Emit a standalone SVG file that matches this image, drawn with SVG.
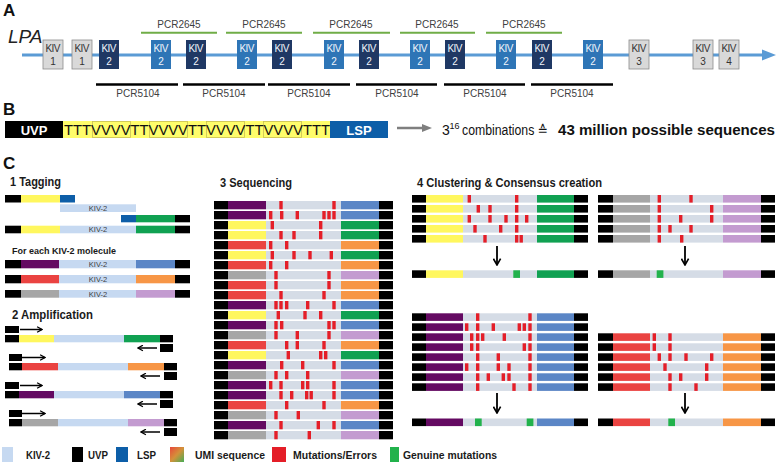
<svg xmlns="http://www.w3.org/2000/svg" width="778" height="465" viewBox="0 0 778 465">
<style>
text{font-family:"Liberation Sans",Arial,"DejaVu Sans",sans-serif}
.bk{fill:#000}
.ye{fill:#fff75e}
.gr{fill:#10a152}
.pu{fill:#640a62}
.rd{fill:#ea4341}
.or{fill:#f79646}
.bl{fill:#5b86c6}
.gy{fill:#a6a6a6}
.lv{fill:#c39bd0}
.kv{fill:#c6d9f1}
.md{fill:#d5dce6}
.mu{fill:#e41e28}
.gm{fill:#22b24c}
.ls{fill:#0d5ea8}
.g1{fill:#d9d9d9;stroke:#8c8c8c;stroke-width:0.8}
.nv{fill:#1f3864}
.lb{fill:#2e75b6}
.kt{font-size:10px;text-anchor:middle}
.tw{fill:#f2f6fb}
.tg{fill:#333}
.pcr{font-size:10px;fill:#404040;text-anchor:middle}
.h{font-size:12px;font-weight:bold;fill:#1a1a1a}
.lg{font-size:11px;font-weight:bold;fill:#1a1a1a}
.kl{font-size:7.5px;fill:#404040;text-anchor:middle}
.big{font-size:17px;font-weight:bold;fill:#111}
.bt{font-size:14px;fill:#111}
.ar{stroke:#000;stroke-width:1.5;fill:none;marker-end:url(#chev)}
.ard{stroke:#000;stroke-width:1.8;fill:none;marker-end:url(#chevd)}
</style>
<defs>
<marker id="chev" viewBox="0 0 10 10" refX="9" refY="5" markerWidth="7" markerHeight="7" orient="auto" markerUnits="userSpaceOnUse"><path d="M2,1 L9,5 L2,9" fill="none" stroke="#000" stroke-width="1.8"/></marker>
<marker id="chevd" viewBox="0 0 10 10" refX="9" refY="5" markerWidth="9" markerHeight="9" orient="auto" markerUnits="userSpaceOnUse"><path d="M2,1 L9,5 L2,9" fill="none" stroke="#000" stroke-width="1.8"/></marker>
<linearGradient id="umi" x1="0" y1="0" x2="1" y2="1"><stop offset="0" stop-color="#e8483a"/><stop offset="0.5" stop-color="#d4913a"/><stop offset="1" stop-color="#45ad55"/></linearGradient>
<rect id="ms" class="mu" width="3.4" height="8.3"/>
<rect id="mc" class="mu" width="3.4" height="7.6"/>
<g id="sPB"><rect class="bk" width="14" height="8.3"/><rect class="pu" x="14" width="38" height="8.3"/><rect class="md" x="52" width="75" height="8.3"/><rect class="bl" x="127" width="38" height="8.3"/><rect class="bk" x="165" width="14" height="8.3"/></g>
<g id="sYG"><rect class="bk" width="14" height="8.3"/><rect class="ye" x="14" width="38" height="8.3"/><rect class="md" x="52" width="75" height="8.3"/><rect class="gr" x="127" width="38" height="8.3"/><rect class="bk" x="165" width="14" height="8.3"/></g>
<g id="sRO"><rect class="bk" width="14" height="8.3"/><rect class="rd" x="14" width="38" height="8.3"/><rect class="md" x="52" width="75" height="8.3"/><rect class="or" x="127" width="38" height="8.3"/><rect class="bk" x="165" width="14" height="8.3"/></g>
<g id="sGL"><rect class="bk" width="14" height="8.3"/><rect class="gy" x="14" width="38" height="8.3"/><rect class="md" x="52" width="75" height="8.3"/><rect class="lv" x="127" width="38" height="8.3"/><rect class="bk" x="165" width="14" height="8.3"/></g>
<g id="cPB"><rect class="bk" width="14" height="7.6"/><rect class="pu" x="14" width="37" height="7.6"/><rect class="md" x="51" width="74" height="7.6"/><rect class="bl" x="125" width="37" height="7.6"/><rect class="bk" x="162" width="14" height="7.6"/></g>
<g id="cYG"><rect class="bk" width="14" height="7.6"/><rect class="ye" x="14" width="37" height="7.6"/><rect class="md" x="51" width="74" height="7.6"/><rect class="gr" x="125" width="37" height="7.6"/><rect class="bk" x="162" width="14" height="7.6"/></g>
<g id="cRO"><rect class="bk" width="15" height="7.6"/><rect class="rd" x="15" width="37" height="7.6"/><rect class="md" x="52" width="73" height="7.6"/><rect class="or" x="125" width="38" height="7.6"/><rect class="bk" x="163" width="14" height="7.6"/></g>
<g id="cGL"><rect class="bk" width="15" height="7.6"/><rect class="gy" x="15" width="37" height="7.6"/><rect class="md" x="52" width="73" height="7.6"/><rect class="lv" x="125" width="38" height="7.6"/><rect class="bk" x="163" width="14" height="7.6"/></g>
</defs>
<rect width="778" height="465" fill="#fff"/>

<!-- Panel A -->
<g id="panelA">
<text class="big" x="3" y="16">A</text>
<text x="8" y="43" font-size="19" font-style="italic" fill="#222">LPA</text>
</g>
<g id="connectors">
<line x1="22" y1="55" x2="764" y2="55" stroke="#5b9bd5" stroke-width="3"/>
<polygon points="762,49.5 776,55 762,60.5" fill="#5b9bd5"/>
<g stroke="#70ad47" stroke-width="2">
<line x1="141" y1="32.7" x2="217" y2="32.7"/><line x1="226" y1="32.7" x2="302" y2="32.7"/><line x1="313" y1="32.7" x2="390" y2="32.7"/><line x1="400" y1="32.7" x2="475" y2="32.7"/><line x1="486" y1="32.7" x2="562" y2="32.7"/>
</g>
<g stroke="#000" stroke-width="2.5">
<line x1="96" y1="84.5" x2="178" y2="84.5"/><line x1="183" y1="84.5" x2="265" y2="84.5"/><line x1="268" y1="84.5" x2="350" y2="84.5"/><line x1="356" y1="84.5" x2="437" y2="84.5"/><line x1="444" y1="84.5" x2="525" y2="84.5"/><line x1="531" y1="84.5" x2="613" y2="84.5"/>
</g>
<line x1="397" y1="128" x2="424" y2="128" stroke="#7f7f7f" stroke-width="2.5"/>
<polygon points="422,124 432,128 422,132" fill="#7f7f7f"/>
<line class="ar" x1="20" y1="329.5" x2="42" y2="329.5"/>
<line class="ar" x1="157" y1="348" x2="138" y2="348"/>
<line class="ar" x1="22" y1="357.5" x2="45" y2="357.5"/>
<line class="ar" x1="160" y1="376" x2="141" y2="376"/>
<line class="ar" x1="20" y1="385.5" x2="42" y2="385.5"/>
<line class="ar" x1="157" y1="404" x2="138" y2="404"/>
<line class="ar" x1="22" y1="413.5" x2="45" y2="413.5"/>
<line class="ar" x1="160" y1="432" x2="141" y2="432"/>
<line class="ard" x1="497" y1="246" x2="497" y2="265"/>
<line class="ard" x1="685" y1="246" x2="685" y2="265"/>
<line class="ard" x1="497" y1="393" x2="497" y2="413"/>
<line class="ard" x1="685" y1="393" x2="685" y2="413"/>
</g>
<g id="pcr-labels">
<text class="pcr" x="179" y="28">PCR2645</text><text class="pcr" x="264" y="28">PCR2645</text><text class="pcr" x="351" y="28">PCR2645</text><text class="pcr" x="437" y="28">PCR2645</text><text class="pcr" x="524" y="28">PCR2645</text>
<text class="pcr" x="138" y="97">PCR5104</text><text class="pcr" x="224" y="97">PCR5104</text><text class="pcr" x="309" y="97">PCR5104</text><text class="pcr" x="397" y="97">PCR5104</text><text class="pcr" x="485" y="97">PCR5104</text><text class="pcr" x="572" y="97">PCR5104</text>
</g>
<g id="kiv1a"><rect class="g1" x="43" y="40" width="20" height="29"/><text class="kt tg" x="53" y="52" textLength="15">KIV</text><text class="kt tg" x="53" y="65">1</text></g>
<g id="kiv1b"><rect class="g1" x="72" y="40" width="20" height="29"/><text class="kt tg" x="82" y="52" textLength="15">KIV</text><text class="kt tg" x="82" y="65">1</text></g>
<g id="kiv2a"><rect class="nv" x="99" y="40" width="20" height="29"/><text class="kt tw" x="109" y="52" textLength="15">KIV</text><text class="kt tw" x="109" y="65">2</text></g>
<g id="kiv2b"><rect class="lb" x="151" y="40" width="20" height="29"/><text class="kt tw" x="161" y="52" textLength="15">KIV</text><text class="kt tw" x="161" y="65">2</text></g>
<g id="kiv2c"><rect class="nv" x="186" y="40" width="20" height="29"/><text class="kt tw" x="196" y="52" textLength="15">KIV</text><text class="kt tw" x="196" y="65">2</text></g>
<g id="kiv2d"><rect class="lb" x="237" y="40" width="20" height="29"/><text class="kt tw" x="247" y="52" textLength="15">KIV</text><text class="kt tw" x="247" y="65">2</text></g>
<g id="kiv2e"><rect class="nv" x="272" y="40" width="20" height="29"/><text class="kt tw" x="282" y="52" textLength="15">KIV</text><text class="kt tw" x="282" y="65">2</text></g>
<g id="kiv2f"><rect class="lb" x="324" y="40" width="20" height="29"/><text class="kt tw" x="334" y="52" textLength="15">KIV</text><text class="kt tw" x="334" y="65">2</text></g>
<g id="kiv2g"><rect class="nv" x="359" y="40" width="20" height="29"/><text class="kt tw" x="369" y="52" textLength="15">KIV</text><text class="kt tw" x="369" y="65">2</text></g>
<g id="kiv2h"><rect class="lb" x="410" y="40" width="20" height="29"/><text class="kt tw" x="420" y="52" textLength="15">KIV</text><text class="kt tw" x="420" y="65">2</text></g>
<g id="kiv2i"><rect class="nv" x="445" y="40" width="20" height="29"/><text class="kt tw" x="455" y="52" textLength="15">KIV</text><text class="kt tw" x="455" y="65">2</text></g>
<g id="kiv2j"><rect class="lb" x="496" y="40" width="20" height="29"/><text class="kt tw" x="506" y="52" textLength="15">KIV</text><text class="kt tw" x="506" y="65">2</text></g>
<g id="kiv2k"><rect class="nv" x="532" y="40" width="20" height="29"/><text class="kt tw" x="542" y="52" textLength="15">KIV</text><text class="kt tw" x="542" y="65">2</text></g>
<g id="kiv2l"><rect class="lb" x="583" y="40" width="20" height="29"/><text class="kt tw" x="593" y="52" textLength="15">KIV</text><text class="kt tw" x="593" y="65">2</text></g>
<g id="kiv3a"><rect class="g1" x="629" y="40" width="20" height="29"/><text class="kt tg" x="639" y="52" textLength="15">KIV</text><text class="kt tg" x="639" y="65">3</text></g>
<g id="kiv3b"><rect class="g1" x="693" y="40" width="20" height="29"/><text class="kt tg" x="703" y="52" textLength="15">KIV</text><text class="kt tg" x="703" y="65">3</text></g>
<g id="kiv4"><rect class="g1" x="719" y="40" width="20" height="29"/><text class="kt tg" x="729" y="52" textLength="15">KIV</text><text class="kt tg" x="729" y="65">4</text></g>

<!-- Panel B -->
<g id="panelB">
<text class="big" x="3" y="115">B</text>
<rect class="bk" x="5" y="121" width="58" height="17"/>
<text x="34" y="135" font-size="13" font-weight="bold" fill="#fff" text-anchor="middle">UVP</text>
<rect x="63" y="121" width="267" height="17" fill="#fffd6b"/>
<g fill="none" stroke="#c9bf55" stroke-width="0.8">
<rect x="92.5" y="121.5" width="38" height="16"/><rect x="149.5" y="121.5" width="38" height="16"/><rect x="206.5" y="121.5" width="38" height="16"/><rect x="263.5" y="121.5" width="38" height="16"/>
</g>
<text x="64" y="135" font-size="15" fill="#111" textLength="266" lengthAdjust="spacingAndGlyphs">TTTVVVVTTVVVVTTVVVVTTVVVVTTT</text>
<rect class="ls" x="330" y="121" width="58" height="17"/>
<text x="359" y="135" font-size="13" font-weight="bold" fill="#fff" text-anchor="middle">LSP</text>
<text class="bt" x="442" y="135">3<tspan x="449.5" y="129" font-size="9">16</tspan></text>
<text class="bt" x="462" y="135" font-size="12.8" textLength="86" lengthAdjust="spacingAndGlyphs">combinations ≙</text>
<text class="bt" x="558" y="135" font-weight="bold" textLength="217" lengthAdjust="spacingAndGlyphs">43 million possible sequences</text>
</g>

<!-- Panel C -->
<g id="panelC">
<text class="big" x="3" y="169">C</text>
</g>
<g id="tagging">
<text class="h" x="10" y="186" textLength="51" lengthAdjust="spacingAndGlyphs">1 Tagging</text>
<rect class="bk" x="5" y="195" width="16" height="7.5"/><rect class="ye" x="21" y="195" width="39" height="7.5"/><rect class="ls" x="60" y="195" width="15" height="7.5"/>
<rect class="kv" x="60" y="204.3" width="76" height="7.7"/><text class="kl" x="98" y="210.8">KIV-2</text>
<rect class="ls" x="121" y="215" width="15" height="7.3"/><rect class="gr" x="136" y="215" width="39" height="7.3"/><rect class="bk" x="175" y="215" width="15" height="7.3"/>
<rect class="bk" x="5" y="225.7" width="16" height="7.6"/><rect class="ye" x="21" y="225.7" width="39" height="7.6"/><rect class="kv" x="60" y="225.7" width="76" height="7.6"/><rect class="gr" x="136" y="225.7" width="39" height="7.6"/><rect class="bk" x="175" y="225.7" width="15" height="7.6"/><text class="kl" x="98" y="232.2">KIV-2</text>
<text x="12" y="254" font-size="8.5" font-weight="bold" fill="#1a1a1a" textLength="104" lengthAdjust="spacingAndGlyphs">For each KIV-2 molecule</text>
<rect class="bk" x="5" y="260" width="16" height="8.3"/><rect class="pu" x="21" y="260" width="38" height="8.3"/><rect class="kv" x="59" y="260" width="77" height="8.3"/><rect class="bl" x="136" y="260" width="39" height="8.3"/><rect class="bk" x="175" y="260" width="15" height="8.3"/><text class="kl" x="98" y="266.8">KIV-2</text>
<rect class="bk" x="5" y="275" width="16" height="8.3"/><rect class="rd" x="21" y="275" width="38" height="8.3"/><rect class="kv" x="59" y="275" width="77" height="8.3"/><rect class="or" x="136" y="275" width="39" height="8.3"/><rect class="bk" x="175" y="275" width="15" height="8.3"/><text class="kl" x="98" y="281.8">KIV-2</text>
<rect class="bk" x="5" y="290" width="16" height="7.7"/><rect class="gy" x="21" y="290" width="38" height="7.7"/><rect class="kv" x="59" y="290" width="77" height="7.7"/><rect class="lv" x="136" y="290" width="39" height="7.7"/><rect class="bk" x="175" y="290" width="15" height="7.7"/><text class="kl" x="98" y="296.5">KIV-2</text>
</g>
<g id="amplification">
<text class="h" x="12" y="319" textLength="81" lengthAdjust="spacingAndGlyphs">2 Amplification</text>
<rect class="bk" x="5" y="326" width="14" height="7"/>
<rect class="bk" x="5" y="335" width="14" height="7.3"/><rect class="ye" x="19" y="335" width="35" height="7.3"/><rect class="kv" x="54" y="335" width="70" height="7.3"/><rect class="gr" x="124" y="335" width="36" height="7.3"/><rect class="bk" x="160" y="335" width="13" height="7.3"/>
<rect class="bk" x="160" y="344" width="13" height="8"/>
<rect class="bk" x="9" y="354" width="13" height="7"/>
<rect class="bk" x="9" y="363" width="13" height="7.3"/><rect class="rd" x="22" y="363" width="36" height="7.3"/><rect class="kv" x="58" y="363" width="70" height="7.3"/><rect class="or" x="128" y="363" width="36" height="7.3"/><rect class="bk" x="164" y="363" width="13" height="7.3"/>
<rect class="bk" x="164" y="372" width="13" height="8"/>
<rect class="bk" x="5" y="382" width="14" height="7"/>
<rect class="bk" x="5" y="391" width="14" height="7.3"/><rect class="pu" x="19" y="391" width="35" height="7.3"/><rect class="kv" x="54" y="391" width="70" height="7.3"/><rect class="bl" x="124" y="391" width="36" height="7.3"/><rect class="bk" x="160" y="391" width="13" height="7.3"/>
<rect class="bk" x="160" y="400" width="13" height="8"/>
<rect class="bk" x="9" y="410" width="13" height="7"/>
<rect class="bk" x="9" y="419" width="13" height="7.3"/><rect class="gy" x="22" y="419" width="36" height="7.3"/><rect class="kv" x="58" y="419" width="70" height="7.3"/><rect class="lv" x="128" y="419" width="36" height="7.3"/><rect class="bk" x="164" y="419" width="13" height="7.3"/>
<rect class="bk" x="164" y="428" width="13" height="8"/>
</g>
<g id="sequencing">
<text class="h" x="220" y="187" textLength="72" lengthAdjust="spacingAndGlyphs">3 Sequencing</text>
<use href="#sPB" x="214" y="201"/><use href="#ms" x="279.3" y="201"/><use href="#ms" x="332.3" y="201"/>
<use href="#sPB" x="214" y="211"/><use href="#ms" x="269" y="211"/><use href="#ms" x="280" y="211"/><use href="#ms" x="295.6" y="211"/><use href="#ms" x="322.3" y="211"/><use href="#ms" x="327.3" y="211"/><use href="#ms" x="332.3" y="211"/>
<use href="#sYG" x="214" y="221"/><use href="#ms" x="270.6" y="221"/><use href="#ms" x="319" y="221"/>
<use href="#sYG" x="214" y="231"/><use href="#ms" x="279.3" y="231"/><use href="#ms" x="292.3" y="231"/><use href="#ms" x="319" y="231"/>
<use href="#sRO" x="214" y="241"/><use href="#ms" x="269" y="241"/><use href="#ms" x="285" y="241"/>
<use href="#sYG" x="214" y="251"/><use href="#ms" x="270.6" y="251"/><use href="#ms" x="292.3" y="251"/><use href="#ms" x="308.3" y="251"/><use href="#ms" x="329.6" y="251"/>
<use href="#sRO" x="214" y="261"/><use href="#ms" x="269" y="261"/><use href="#ms" x="285" y="261"/>
<use href="#sGL" x="214" y="271"/><use href="#ms" x="274.3" y="271"/><use href="#ms" x="327.3" y="271"/>
<use href="#sRO" x="214" y="281"/><use href="#ms" x="274.3" y="281"/><use href="#ms" x="327.3" y="281"/>
<use href="#sRO" x="214" y="291"/><use href="#ms" x="279.3" y="291"/><use href="#ms" x="322.3" y="291"/>
<use href="#sPB" x="214" y="301"/><use href="#ms" x="274.3" y="301"/><use href="#ms" x="279.3" y="301"/><use href="#ms" x="285" y="301"/><use href="#ms" x="306" y="301"/><use href="#ms" x="332.3" y="301"/>
<use href="#sYG" x="214" y="311"/><use href="#ms" x="276.6" y="311"/><use href="#ms" x="303.3" y="311"/><use href="#ms" x="319" y="311"/>
<use href="#sPB" x="214" y="321"/><use href="#ms" x="274.3" y="321"/><use href="#ms" x="280" y="321"/><use href="#ms" x="327.3" y="321"/><use href="#ms" x="332.3" y="321"/>
<use href="#sGL" x="214" y="331"/><use href="#ms" x="274.3" y="331"/><use href="#ms" x="295.6" y="331"/><use href="#ms" x="327.3" y="331"/>
<use href="#sRO" x="214" y="341"/><use href="#ms" x="285" y="341"/><use href="#ms" x="295.6" y="341"/><use href="#ms" x="322.3" y="341"/>
<use href="#sYG" x="214" y="351"/><use href="#ms" x="286.6" y="351"/><use href="#ms" x="319" y="351"/><use href="#ms" x="324" y="351"/>
<use href="#sPB" x="214" y="361"/><use href="#ms" x="280" y="361"/><use href="#ms" x="301" y="361"/><use href="#ms" x="332.3" y="361"/>
<use href="#sGL" x="214" y="371"/><use href="#ms" x="274.3" y="371"/><use href="#ms" x="285" y="371"/><use href="#ms" x="306" y="371"/>
<use href="#sPB" x="214" y="381"/><use href="#ms" x="269" y="381"/><use href="#ms" x="279.3" y="381"/><use href="#ms" x="301" y="381"/><use href="#ms" x="306" y="381"/><use href="#ms" x="332.3" y="381"/>
<use href="#sPB" x="214" y="391"/><use href="#ms" x="279.3" y="391"/><use href="#ms" x="290" y="391"/><use href="#ms" x="305" y="391"/><use href="#ms" x="309.5" y="391"/><use href="#ms" x="332.3" y="391"/>
<use href="#sRO" x="214" y="401"/><use href="#ms" x="285" y="401"/><use href="#ms" x="322.3" y="401"/>
<use href="#sGL" x="214" y="411"/><use href="#ms" x="274.3" y="411"/><use href="#ms" x="296.6" y="411"/>
<use href="#sPB" x="214" y="421"/><use href="#ms" x="279.3" y="421"/><use href="#ms" x="316.6" y="421"/><use href="#ms" x="332.3" y="421"/>
<use href="#sGL" x="214" y="431"/><use href="#ms" x="274.3" y="431"/><use href="#ms" x="307.6" y="431"/>
</g>
<g id="clustering">
<text class="h" x="417" y="187" textLength="185" lengthAdjust="spacingAndGlyphs">4 Clustering &amp; Consensus creation</text>
</g>
<g id="cluster1">
<use href="#cYG" x="412" y="195"/><use href="#mc" x="467.6" y="195"/><use href="#mc" x="515" y="195"/>
<use href="#cYG" x="412" y="205"/><use href="#mc" x="476.6" y="205"/><use href="#mc" x="488.3" y="205"/><use href="#mc" x="515" y="205"/>
<use href="#cYG" x="412" y="215"/><use href="#mc" x="467.6" y="215"/><use href="#mc" x="488.3" y="215"/><use href="#mc" x="504.3" y="215"/><use href="#mc" x="515" y="215"/><use href="#mc" x="525" y="215"/>
<use href="#cYG" x="412" y="225"/><use href="#mc" x="473.3" y="225"/><use href="#mc" x="499" y="225"/><use href="#mc" x="515" y="225"/>
<use href="#cYG" x="412" y="235"/><use href="#mc" x="483.3" y="235"/><use href="#mc" x="515" y="235"/><use href="#mc" x="519.5" y="235"/>
</g>
<g id="consensus1"><use href="#cYG" x="412" y="270.3"/><rect class="gm" x="513.3" y="270.3" width="6.7" height="7.6"/></g>
<g id="cluster2">
<use href="#cGL" x="598" y="195"/><use href="#mc" x="657.6" y="195"/><use href="#mc" x="689.3" y="195"/>
<use href="#cGL" x="598" y="205"/><use href="#mc" x="657.6" y="205"/><use href="#mc" x="710" y="205"/>
<use href="#cGL" x="598" y="215"/><use href="#mc" x="657.6" y="215"/><use href="#mc" x="679" y="215"/><use href="#mc" x="710" y="215"/>
<use href="#cGL" x="598" y="225"/><use href="#mc" x="657.6" y="225"/><use href="#mc" x="668.3" y="225"/><use href="#mc" x="689.3" y="225"/>
<use href="#cGL" x="598" y="235"/><use href="#mc" x="657.6" y="235"/><use href="#mc" x="680" y="235"/>
</g>
<g id="consensus2"><use href="#cGL" x="598" y="270.3"/><rect class="gm" x="656.7" y="270.3" width="6.7" height="7.6"/></g>
<g id="cluster3">
<use href="#cPB" x="412" y="313.3"/><use href="#mc" x="476" y="313.3"/><use href="#mc" x="528.3" y="313.3"/>
<use href="#cPB" x="412" y="323.3"/><use href="#mc" x="465" y="323.3"/><use href="#mc" x="476" y="323.3"/><use href="#mc" x="491.6" y="323.3"/><use href="#mc" x="517.6" y="323.3"/><use href="#mc" x="522.6" y="323.3"/><use href="#mc" x="528.3" y="323.3"/>
<use href="#cPB" x="412" y="333.3"/><use href="#mc" x="470" y="333.3"/><use href="#mc" x="476" y="333.3"/><use href="#mc" x="481" y="333.3"/><use href="#mc" x="502.6" y="333.3"/><use href="#mc" x="528.3" y="333.3"/>
<use href="#cPB" x="412" y="343.3"/><use href="#mc" x="470" y="343.3"/><use href="#mc" x="476" y="343.3"/><use href="#mc" x="522.6" y="343.3"/><use href="#mc" x="528.3" y="343.3"/>
<use href="#cPB" x="412" y="353.3"/><use href="#mc" x="476" y="353.3"/><use href="#mc" x="496.6" y="353.3"/><use href="#mc" x="528.3" y="353.3"/>
<use href="#cPB" x="412" y="363.3"/><use href="#mc" x="465" y="363.3"/><use href="#mc" x="476" y="363.3"/><use href="#mc" x="496.6" y="363.3"/><use href="#mc" x="507.3" y="363.3"/><use href="#mc" x="528.3" y="363.3"/>
<use href="#cPB" x="412" y="373.3"/><use href="#mc" x="476" y="373.3"/><use href="#mc" x="486.6" y="373.3"/><use href="#mc" x="501.6" y="373.3"/><use href="#mc" x="507.3" y="373.3"/><use href="#mc" x="528.3" y="373.3"/>
<use href="#cPB" x="412" y="383.3"/><use href="#mc" x="476" y="383.3"/><use href="#mc" x="512.3" y="383.3"/><use href="#mc" x="528.3" y="383.3"/>
</g>
<g id="consensus3"><use href="#cPB" x="412" y="418.5"/><rect class="gm" x="475" y="418.5" width="6.7" height="7.6"/><rect class="gm" x="526.7" y="418.5" width="6.7" height="7.6"/></g>
<g id="cluster4">
<use href="#cRO" x="598" y="333.3"/><use href="#mc" x="652.6" y="333.3"/><use href="#mc" x="668.3" y="333.3"/>
<use href="#cRO" x="598" y="343.3"/><use href="#mc" x="652.6" y="343.3"/><use href="#mc" x="668.3" y="343.3"/>
<use href="#cRO" x="598" y="353.3"/><use href="#mc" x="657.6" y="353.3"/><use href="#mc" x="668.3" y="353.3"/><use href="#mc" x="684.3" y="353.3"/><use href="#mc" x="710" y="353.3"/>
<use href="#cRO" x="598" y="363.3"/><use href="#mc" x="663.3" y="363.3"/><use href="#mc" x="705" y="363.3"/>
<use href="#cRO" x="598" y="373.3"/><use href="#mc" x="668.3" y="373.3"/><use href="#mc" x="679" y="373.3"/><use href="#mc" x="705" y="373.3"/>
<use href="#cRO" x="598" y="383.3"/><use href="#mc" x="668.3" y="383.3"/><use href="#mc" x="694.3" y="383.3"/>
</g>
<g id="consensus4"><use href="#cRO" x="598" y="418.5"/><rect class="gm" x="668.3" y="418.5" width="6.7" height="7.6"/></g>

<g id="legend">
<rect class="kv" x="2" y="447" width="11" height="15"/><text class="lg" x="26" y="459" textLength="24" lengthAdjust="spacingAndGlyphs">KIV-2</text>
<rect class="bk" x="72" y="447" width="11" height="15"/><text class="lg" x="88" y="459" textLength="20" lengthAdjust="spacingAndGlyphs">UVP</text>
<rect class="ls" x="116" y="447" width="12" height="15"/><text class="lg" x="137" y="459" textLength="19" lengthAdjust="spacingAndGlyphs">LSP</text>
<rect fill="url(#umi)" x="170" y="447" width="14" height="15"/><text class="lg" x="195" y="459" textLength="70" lengthAdjust="spacingAndGlyphs">UMI sequence</text>
<rect class="mu" x="272" y="447" width="14" height="15"/><text class="lg" x="293" y="459" textLength="84" lengthAdjust="spacingAndGlyphs">Mutations/Errors</text>
<rect class="gm" x="390" y="447" width="9" height="15"/><text class="lg" x="403" y="459" textLength="94" lengthAdjust="spacingAndGlyphs">Genuine mutations</text>
</g>
</svg>
